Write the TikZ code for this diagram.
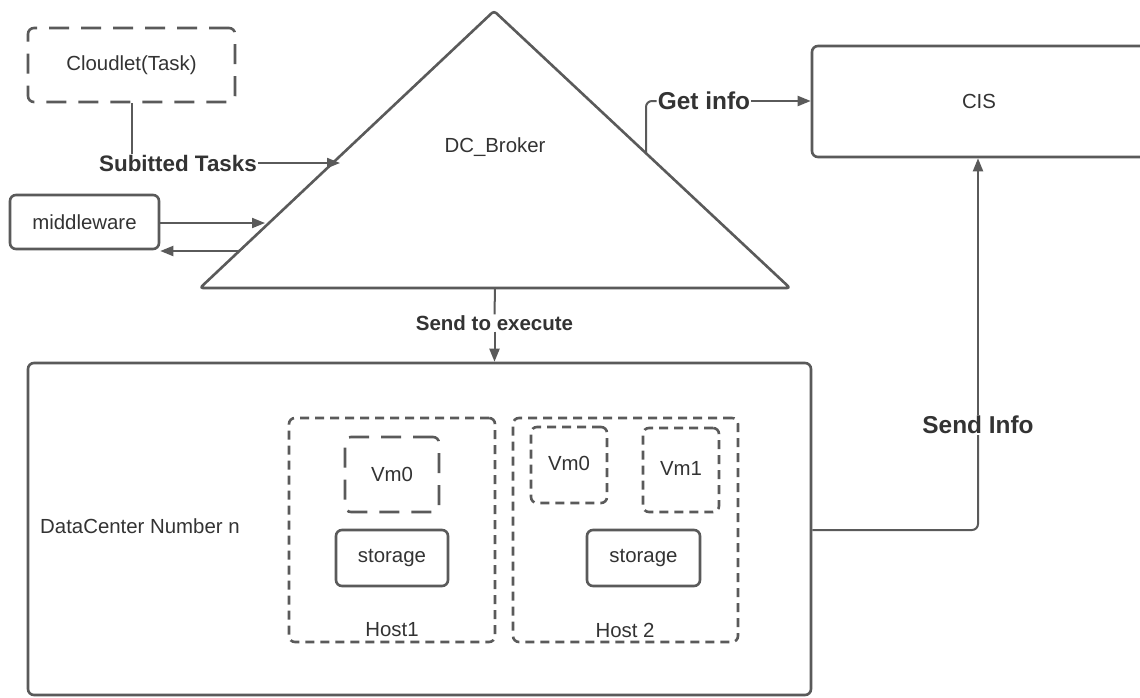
\documentclass[tikz,border=0pt]{standalone}
\usepackage{fontspec}
\setmainfont{Liberation Sans}
\usetikzlibrary{arrows.meta,calc}
\definecolor{edge}{HTML}{5A5A5A}
\definecolor{ink}{HTML}{333333}
\tikzset{
  every node/.style={text=ink, font=\fontsize{20.4}{24}\selectfont},
  box/.style={draw=edge, line width=2.6pt, rounded corners=6pt, inner sep=0pt},
  longdash/.style={dash pattern=on 20pt off 12pt},
  shortdash/.style={dash pattern=on 9pt off 6pt},
  conn/.style={draw=edge, line width=2pt, rounded corners=6pt},
  arr/.style={conn, -{Triangle[length=13pt,width=10pt]}},
  lblA/.style={inner sep=1pt, font=\bfseries\fontsize{20.5}{24}\selectfont},
  lblB/.style={inner sep=1pt, font=\bfseries\fontsize{22.4}{26}\selectfont},
  lblC/.style={inner sep=1pt, font=\bfseries\fontsize{24.4}{28}\selectfont},
}
\begin{document}
\begin{tikzpicture}[x=1pt,y=-1pt]
\clip (0,0) rectangle (1140,697);
\fill[white] (0,0) rectangle (1140,697);

% broker triangle
\coordinate (apex) at (494,11);
\coordinate (bl) at (200,288);
\coordinate (br) at (790,288);
\draw[draw=edge, line width=2.6pt, rounded corners=3pt, line join=round]
  (bl) -- (apex) -- (br) -- cycle;
\node (broker) at (495,147) {DC\_Broker};

% points on the triangle where connectors meet it
\coordinate (tsub) at (340,163);
\coordinate (tmwin) at (265,223);
\coordinate (tmwout) at (239,251);
\coordinate (tget) at (646,153);
\coordinate (tbase) at (495,288);

% boxes
\node[box, longdash, minimum width=207pt, minimum height=74pt] (cloud) at (131.5,65) {Cloudlet(Task)};
\node[box, minimum width=149pt, minimum height=54pt] (mw) at (84.5,222) {middleware};
\node[box, minimum width=334pt, minimum height=111pt] (cis) at (979,101.5) {CIS};
\node[box, minimum width=783pt, minimum height=332pt] (dc) at (419.5,529) {};
\node[anchor=west, inner sep=0pt] (dclabel) at (40,526) {DataCenter Number n};

% hosts
\node[box, shortdash, minimum width=206pt, minimum height=224pt] (host1) at (392,530) {};
\node[box, shortdash, minimum width=225pt, minimum height=224pt] (host2) at (625.5,530) {};
\node (h1lbl) at (392,630) {Host1};
\node (h2lbl) at (625,630) {Host 2};

\node[box, longdash, minimum width=94pt, minimum height=75pt] (h1vm0) at (392,474.5) {Vm0};
\node[box, minimum width=112pt, minimum height=56pt] (h1st) at (392,558) {storage};
\node[box, shortdash, minimum width=76pt, minimum height=76pt] (h2vm0) at (569,465) {};
\node at (569,463) {Vm0};
\node[box, shortdash, minimum width=76pt, minimum height=84pt] (h2vm1) at (681,470) {};
\node at (681,468) {Vm1};
\node[box, minimum width=113pt, minimum height=56pt] (h2st) at (643.5,558) {storage};

% connector labels
\node[lblB] (subt) at (178,163) {Subitted Tasks};
\node[lblC] (getinfo) at (704,101) {Get info};
\node[lblA] (sendx) at (494.5,323) {Send to execute};
\node[lblC] (sendinfo) at (978,425) {Send Info};

% connectors
\draw[conn] (cloud.south) -- (cloud.south |- subt.north);
\draw[arr] (subt.east) -- (tsub);
\draw[arr] (mw.east |- tmwin) -- (tmwin);
\draw[arr] (tmwout) -- (mw.east |- tmwout);
\draw[conn] (tget) |- (getinfo.west);
\draw[arr] (getinfo.east) -- (cis.west |- getinfo.east);
\draw[conn] (tbase) -- (sendx.north);
\draw[arr] (sendx.south) -- (dc.north -| sendx.south);
\draw[conn] (dc.east |- 0,530) -| (sendinfo.south);
\draw[arr] (sendinfo.north) -- (cis.south -| sendinfo.north);
\end{tikzpicture}
\end{document}
